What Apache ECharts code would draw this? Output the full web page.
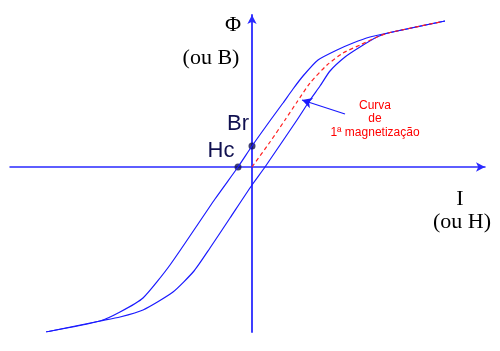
<!DOCTYPE html>
<html>
<head>
<meta charset="utf-8">
<script src="https://cdn.jsdelivr.net/npm/echarts@6/dist/echarts.min.js"></script>
<style>html,body{margin:0;padding:0;background:#fff}#c{width:500px;height:351px}</style>
</head>
<body>
<div id="c"></div>
<script>
// Hysteresis loop, values in arbitrary units (H on x, B on y)
const descendingBranch = [
  [193,146],[136,134],[118,130],[101,124],[85,117],[66,107],[51,91],[41,78],[31,64],[20,49],
  [0,21],[-14,0],[-37,-32],[-82,-98],[-109,-131],[-132,-145],[-152,-154],[-206,-165]
];
const ascendingBranch = [
  [-206,-165],[-152,-154],[-132,-150],[-109,-143],[-79,-125],[-58,-104],[-42,-81],[-22,-51],
  [0,-18],[13,0],[45,47],[58,67],[68,81],[78,96],[93,110],[108,120],[125,130],[136,134],[193,146]
];
const firstMagnetization = [
  [0,0],[18,25],[33,47],[45,65],[58,84],[75,102],[91,114],[108,122],[125,130],[136,134],[188,145]
];
const remanence = [0,21];
const coercive = [-14,0];
const arrowFrom = [93,53];
const arrowTo = [50,67];
const xRange = [-242,233];
const yRange = [-165,152];

const blue = '#1a1aff';
const navy = '#101050';
const chart = echarts.init(document.getElementById('c'));
chart.setOption({
  animation: false,
  grid: {left: 10, right: 15, top: 15, bottom: 19},
  xAxis: {
    type: 'value', min: xRange[0], max: xRange[1],
    axisLine: {onZero: true, symbol: ['none','arrow'], symbolSize: [7,9], lineStyle: {color: '#2a2aff', width: 1.5}},
    axisTick: {show: false}, axisLabel: {show: false}, splitLine: {show: false}
  },
  yAxis: {
    type: 'value', min: yRange[0], max: yRange[1],
    axisLine: {onZero: true, symbol: ['none','arrow'], symbolSize: [7,9], lineStyle: {color: '#2a2aff', width: 1.8}},
    axisTick: {show: false}, axisLabel: {show: false}, splitLine: {show: false}
  },
  series: [
    {type: 'line', data: descendingBranch, smooth: 0.2, showSymbol: false, lineStyle: {color: blue, width: 1.2}},
    {type: 'line', data: ascendingBranch, smooth: 0.2, showSymbol: false, lineStyle: {color: blue, width: 1.2}},
    {type: 'line', data: firstMagnetization, smooth: 0.2, showSymbol: false,
     lineStyle: {color: '#ff2020', width: 1.2, type: [4,3]},
     markLine: {silent: true, symbol: ['none','arrow'], symbolSize: [8,10],
       label: {show: false}, lineStyle: {color: blue, width: 1.2, type: 'solid'},
       data: [[{coord: arrowFrom}, {coord: arrowTo}]]}},
    {type: 'scatter', data: [remanence, coercive], symbolSize: 7, itemStyle: {color: navy}}
  ],
  graphic: [
    {type: 'text', style: {text: 'Φ', x: 233, y: 25, fill: '#000', font: '22px "Liberation Serif"', align: 'center', verticalAlign: 'middle'}},
    {type: 'text', style: {text: '(ou B)', x: 211, y: 58, fill: '#000', font: '22px "Liberation Serif"', align: 'center', verticalAlign: 'middle'}},
    {type: 'text', style: {text: 'I', x: 460, y: 199, fill: '#000', font: '22px "Liberation Serif"', align: 'center', verticalAlign: 'middle'}},
    {type: 'text', style: {text: '(ou H)', x: 462, y: 222, fill: '#000', font: '22px "Liberation Serif"', align: 'center', verticalAlign: 'middle'}},
    {type: 'text', style: {text: 'Br', x: 238, y: 124, fill: navy, font: '22px "Liberation Sans"', align: 'center', verticalAlign: 'middle'}},
    {type: 'text', style: {text: 'Hc', x: 221, y: 151, fill: navy, font: '22px "Liberation Sans"', align: 'center', verticalAlign: 'middle'}},
    {type: 'text', style: {text: 'Curva\nde\n1ª magnetização', x: 375, y: 119, fill: '#ff0000', font: '12px "Liberation Sans"', lineHeight: 13.5, align: 'center', verticalAlign: 'middle'}}
  ]
});
</script>
</body>
</html>
